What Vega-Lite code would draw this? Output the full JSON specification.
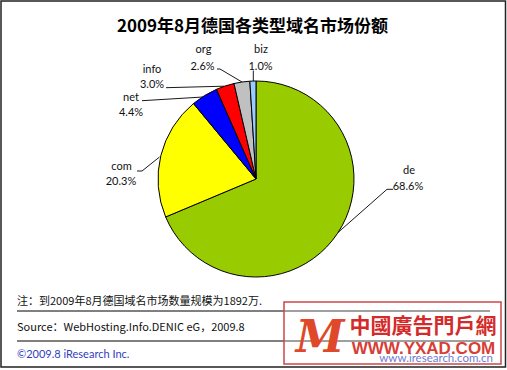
{
  "$schema": "https://vega.github.io/schema/vega-lite/v6.json",
  "width": 502,
  "height": 358,
  "autosize": {"type": "none"},
  "padding": {"left": 5, "top": 0, "right": 0, "bottom": 12},
  "background": "white",
  "config": {"view": {"stroke": null}},
  "datasets": {
    "shares": [
      {"domain": "de", "share": 68.6, "idx": 1},
      {"domain": "com", "share": 20.3, "idx": 2},
      {"domain": "net", "share": 4.4, "idx": 3},
      {"domain": "info", "share": 3.0, "idx": 4},
      {"domain": "org", "share": 2.6, "idx": 5},
      {"domain": "biz", "share": 1.0, "idx": 6}
    ],
    "frame": [{"x": 1, "x2": 505.5, "y": 1, "y2": 367}],
    "separators": [{"x": 17, "x2": 490, "y": 311}, {"x": 17, "x2": 490, "y": 341}],
    "leaders": [
      {"id": "de", "k": 1, "x": 338, "y": 232.5},
      {"id": "de", "k": 2, "x": 387, "y": 189.3},
      {"id": "de", "k": 3, "x": 393, "y": 189.3},
      {"id": "com", "k": 1, "x": 159.5, "y": 157},
      {"id": "com", "k": 2, "x": 142, "y": 171},
      {"id": "com", "k": 3, "x": 137, "y": 171},
      {"id": "net", "k": 1, "x": 142, "y": 100.7},
      {"id": "net", "k": 2, "x": 203, "y": 97},
      {"id": "info", "k": 1, "x": 166, "y": 87.7},
      {"id": "info", "k": 2, "x": 224, "y": 86.2},
      {"id": "org", "k": 1, "x": 217, "y": 69},
      {"id": "org", "k": 2, "x": 220, "y": 69},
      {"id": "org", "k": 3, "x": 242, "y": 82},
      {"id": "biz", "k": 1, "x": 253.3, "y": 70.5},
      {"id": "biz", "k": 2, "x": 253.3, "y": 81.5}
    ],
    "labels": [
      {"t": "de", "x": 409, "y": 173.5},
      {"t": "68.6%", "x": 408, "y": 189.5},
      {"t": "com", "x": 121.5, "y": 169.5},
      {"t": "20.3%", "x": 121, "y": 185},
      {"t": "net", "x": 131, "y": 101},
      {"t": "4.4%", "x": 131, "y": 116},
      {"t": "info", "x": 152, "y": 73},
      {"t": "3.0%", "x": 152, "y": 88},
      {"t": "org", "x": 203.5, "y": 52.5},
      {"t": "2.6%", "x": 202.5, "y": 70},
      {"t": "biz", "x": 261, "y": 52.5},
      {"t": "1.0%", "x": 260.5, "y": 70}
    ],
    "title": [{"t": "2009年8月德国各类型域名市场份额", "x": 252.5, "y": 31.5}],
    "notes": [
      {"t": "注：到2009年8月德国域名市场数量规模为1892万.", "x": 17, "y": 304.5},
      {"t": "Source：WebHosting.Info.DENIC eG，2009.8", "x": 17, "y": 330.5}
    ],
    "copyright": [{"t": "©2009.8 iResearch Inc.", "x": 17, "y": 358}],
    "site": [{"t": "www.iresearch.com.cn", "x": 493, "y": 362}],
    "wmbox": [{"x": 284, "x2": 501, "y": 302, "y2": 364}],
    "wmcn": [{"t": "中國廣告門戶網", "x": 423, "y": 333}],
    "wmen": [{"t": "WWW.YXAD.COM", "x": 423.5, "y": 354}],
    "wmlogo": [{"t": "M", "x": 320, "y": 352}]
  },
  "layer": [
    {
      "data": {"name": "frame"},
      "mark": {"type": "rect", "fill": null, "stroke": "#222222", "strokeWidth": 1.5},
      "encoding": {
        "x": {"field": "x", "type": "quantitative", "scale": {"domain": [5, 507], "nice": false, "zero": false}, "axis": null},
        "x2": {"field": "x2"},
        "y": {"field": "y", "type": "quantitative", "scale": {"domain": [0, 358], "nice": false, "zero": false, "reverse": true}, "axis": null},
        "y2": {"field": "y2"}
      }
    },
    {
      "data": {"name": "separators"},
      "mark": {"type": "rule", "stroke": "#000000", "strokeWidth": 1},
      "encoding": {
        "x": {"field": "x", "type": "quantitative", "scale": {"domain": [5, 507], "nice": false, "zero": false}, "axis": null},
        "x2": {"field": "x2"},
        "y": {"field": "y", "type": "quantitative", "scale": {"domain": [0, 358], "nice": false, "zero": false, "reverse": true}, "axis": null}
      }
    },
    {
      "data": {"name": "leaders"},
      "mark": {"type": "line", "stroke": "#000000", "strokeWidth": 0.9},
      "encoding": {
        "x": {"field": "x", "type": "quantitative", "scale": {"domain": [5, 507], "nice": false, "zero": false}, "axis": null},
        "y": {"field": "y", "type": "quantitative", "scale": {"domain": [0, 358], "nice": false, "zero": false, "reverse": true}, "axis": null},
        "detail": {"field": "id", "type": "nominal"},
        "order": {"field": "k", "type": "quantitative"}
      }
    },
    {
      "data": {"name": "shares"},
      "mark": {"type": "arc", "outerRadius": 98, "stroke": "#000000", "strokeWidth": 1},
      "encoding": {
        "theta": {"field": "share", "type": "quantitative", "stack": true},
        "order": {"field": "idx", "type": "quantitative"},
        "color": {
          "field": "domain",
          "type": "nominal",
          "scale": {"domain": ["de", "com", "net", "info", "org", "biz"], "range": ["#99CC00", "#FFFF00", "#0000FF", "#FF0000", "#C0C0C0", "#99CCFF"]},
          "legend": null
        }
      }
    },
    {
      "data": {"name": "labels"},
      "mark": {"type": "text", "font": "Lato", "fontSize": 11, "align": "center", "baseline": "alphabetic", "color": "#111111"},
      "encoding": {
        "x": {"field": "x", "type": "quantitative", "scale": {"domain": [5, 507], "nice": false, "zero": false}, "axis": null},
        "y": {"field": "y", "type": "quantitative", "scale": {"domain": [0, 358], "nice": false, "zero": false, "reverse": true}, "axis": null},
        "text": {"field": "t"}
      }
    },
    {
      "data": {"name": "title"},
      "mark": {"type": "text", "font": "Noto Sans CJK SC", "fontSize": 17, "fontWeight": "bold", "align": "center", "baseline": "alphabetic", "color": "#000000"},
      "encoding": {
        "x": {"field": "x", "type": "quantitative", "scale": {"domain": [5, 507], "nice": false, "zero": false}, "axis": null},
        "y": {"field": "y", "type": "quantitative", "scale": {"domain": [0, 358], "nice": false, "zero": false, "reverse": true}, "axis": null},
        "text": {"field": "t"}
      }
    },
    {
      "data": {"name": "notes"},
      "mark": {"type": "text", "font": "Noto Sans CJK SC", "fontSize": 11, "align": "left", "baseline": "alphabetic", "color": "#111111"},
      "encoding": {
        "x": {"field": "x", "type": "quantitative", "scale": {"domain": [5, 507], "nice": false, "zero": false}, "axis": null},
        "y": {"field": "y", "type": "quantitative", "scale": {"domain": [0, 358], "nice": false, "zero": false, "reverse": true}, "axis": null},
        "text": {"field": "t"}
      }
    },
    {
      "data": {"name": "copyright"},
      "mark": {"type": "text", "font": "Lato", "fontSize": 11, "align": "left", "baseline": "alphabetic", "color": "#3040C0"},
      "encoding": {
        "x": {"field": "x", "type": "quantitative", "scale": {"domain": [5, 507], "nice": false, "zero": false}, "axis": null},
        "y": {"field": "y", "type": "quantitative", "scale": {"domain": [0, 358], "nice": false, "zero": false, "reverse": true}, "axis": null},
        "text": {"field": "t"}
      }
    },
    {
      "data": {"name": "site"},
      "mark": {"type": "text", "font": "Lato", "fontSize": 11.5, "align": "right", "baseline": "alphabetic", "color": "#4050C0"},
      "encoding": {
        "x": {"field": "x", "type": "quantitative", "scale": {"domain": [5, 507], "nice": false, "zero": false}, "axis": null},
        "y": {"field": "y", "type": "quantitative", "scale": {"domain": [0, 358], "nice": false, "zero": false, "reverse": true}, "axis": null},
        "text": {"field": "t"}
      }
    },
    {
      "data": {"name": "wmbox"},
      "mark": {"type": "rect", "fill": "#FFFFFF", "fillOpacity": 0.25, "stroke": "#C84848", "strokeWidth": 1.5},
      "encoding": {
        "x": {"field": "x", "type": "quantitative", "scale": {"domain": [5, 507], "nice": false, "zero": false}, "axis": null},
        "x2": {"field": "x2"},
        "y": {"field": "y", "type": "quantitative", "scale": {"domain": [0, 358], "nice": false, "zero": false, "reverse": true}, "axis": null},
        "y2": {"field": "y2"}
      }
    },
    {
      "data": {"name": "wmcn"},
      "mark": {"type": "text", "font": "Noto Sans CJK TC", "fontSize": 21, "fontWeight": "bold", "align": "center", "baseline": "alphabetic", "color": "#D42A2A"},
      "encoding": {
        "x": {"field": "x", "type": "quantitative", "scale": {"domain": [5, 507], "nice": false, "zero": false}, "axis": null},
        "y": {"field": "y", "type": "quantitative", "scale": {"domain": [0, 358], "nice": false, "zero": false, "reverse": true}, "axis": null},
        "text": {"field": "t"}
      }
    },
    {
      "data": {"name": "wmen"},
      "mark": {"type": "text", "font": "Liberation Sans", "fontSize": 17, "fontWeight": "bold", "align": "center", "baseline": "alphabetic", "color": "#D42A20", "opacity": 0.9},
      "encoding": {
        "x": {"field": "x", "type": "quantitative", "scale": {"domain": [5, 507], "nice": false, "zero": false}, "axis": null},
        "y": {"field": "y", "type": "quantitative", "scale": {"domain": [0, 358], "nice": false, "zero": false, "reverse": true}, "axis": null},
        "text": {"field": "t"}
      }
    },
    {
      "data": {"name": "wmlogo"},
      "mark": {"type": "text", "font": "DejaVu Serif", "fontSize": 44, "fontWeight": "bold", "fontStyle": "italic", "align": "center", "baseline": "alphabetic", "color": "#E0482A"},
      "encoding": {
        "x": {"field": "x", "type": "quantitative", "scale": {"domain": [5, 507], "nice": false, "zero": false}, "axis": null},
        "y": {"field": "y", "type": "quantitative", "scale": {"domain": [0, 358], "nice": false, "zero": false, "reverse": true}, "axis": null},
        "text": {"field": "t"}
      }
    }
  ]
}
